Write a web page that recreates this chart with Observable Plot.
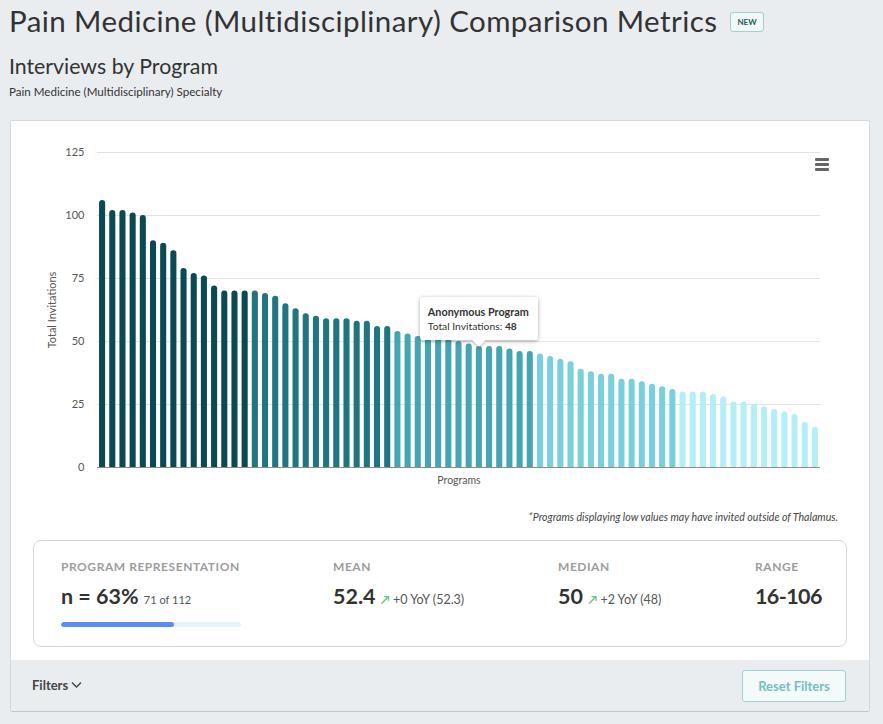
<!DOCTYPE html>
<html><head><meta charset="utf-8">
<script src="https://cdn.jsdelivr.net/npm/d3@7"></script>
<script src="https://cdn.jsdelivr.net/npm/@observablehq/plot@0.6"></script>
<style>
html,body{margin:0;padding:0}
body{background:#e9edf0;font-family:Lato,"Open Sans",sans-serif;width:883px;height:724px;overflow:hidden;position:relative;color:#333}
.abs{position:absolute;white-space:nowrap}
#title{left:9px;top:3px;font-size:29.5px;color:#333;letter-spacing:0.42px}
#badge{left:730px;top:12px;width:32px;height:18px;border:1px solid #9fd0cc;border-radius:3px;background:#f2f8f8;font-size:8px;font-weight:700;color:#1d5b5d;text-align:center;line-height:18px}
#sub1{left:9px;top:53px;font-size:21.3px;color:#333}
#sub2{left:9px;top:85px;font-size:11.6px;color:#333}
#card{left:10px;top:120px;width:858px;height:590px;border:1px solid #d3d7da;border-bottom-color:#c4c8cb;background:#fff;border-radius:2px}
#footer{left:11px;top:660px;width:858px;height:51px;background:#e9edf0}
#chart{left:40px;top:140px}
#menu{left:815px;top:158px;width:14px}
#menu div{height:2.5px;background:#666;margin-bottom:2.5px;border-radius:1px}
#tip{background:#fff;border-radius:3px;box-shadow:0 1px 4px rgba(0,0,0,0.35);padding:7px 9px 6px 8px;font-size:10.3px;color:#333;line-height:15px}
#tip .arrow{position:absolute;left:50%;bottom:-5px;width:9px;height:9px;background:#fff;transform:translateX(-50%) rotate(45deg);box-shadow:2px 2px 2px rgba(0,0,0,0.15)}
#note{right:45px;top:511px;font-size:10.6px;font-style:italic;color:#444}
#stats{left:33px;top:540px;width:812px;height:105px;border:1px solid #d3d7da;border-radius:8px;background:#fff}
.lab{font-size:12px;font-weight:700;color:#9c9c9c;letter-spacing:0.55px;top:559px}
.val{font-size:21.5px;font-weight:700;color:#333;top:583px}
.small{font-size:12.5px;color:#555;font-weight:400}
.tiny{font-size:11px;color:#555;font-weight:400}
.up{color:#6cc08b;font-size:12px}
#bar{left:61px;top:622px;width:180px;height:5px;background:#e6f3f7;border-radius:3px;overflow:hidden}
#bar div{height:5px;background:#5b8def;border-radius:3px}
#filters{left:32px;top:677px;font-size:13px;font-weight:700;color:#444}
#reset{left:742px;top:670px;width:102px;height:30px;border:1px solid #9fd3d3;border-radius:3px;background:#f4f9fa;color:#74bfc0;font-size:13px;font-weight:700;text-align:center;line-height:30px}
</style></head>
<body>
<script>
// ---- data ----
const programIds = ["P1","P2","P3","P4","P5","P6","P7","P8","P9","P10","P11","P12","P13","P14","P15","P16","P17","P18","P19","P20","P21","P22","P23","P24","P25","P26","P27","P28","P29","P30","P31","P32","P33","P34","P35","P36","P37","P38","P39","P40","P41","P42","P43","P44","P45","P46","P47","P48","P49","P50","P51","P52","P53","P54","P55","P56","P57","P58","P59","P60","P61","P62","P63","P64","P65","P66","P67","P68","P69","P70","P71"];
const invitations = [106,102,102,101,100,90,89,86,79,77,76,72,70,70,70,70,69,68,65,63,61,60,59,59,59,58,58,56,56,54,53,52,51,51,51,50,49,48,48,48,47,46,46,45,44,43,42,39,38,37,37,35,35,34,33,32,31,30,30,30,29,28,26,26,25,24,23,22,21,18,16];
const groupSizes = [15,14,14,14,14];
const groupColors = ["#0b4a52","#217580","#45a6b3","#77d0dc","#b4eef6"];
const yTicks = [0,25,50,75,100,125];
const highlightIndex = 37;
const tipTitle = "Anonymous Program";
const tipLabel = "Total Invitations: ";
const titleText = "Pain Medicine (Multidisciplinary) Comparison Metrics";
const chartTitle = "Interviews by Program";
const chartSubtitle = "Pain Medicine (Multidisciplinary) Specialty";
const yLabel = "Total Invitations";
const xLabel = "Programs";
const footnote = "*Programs displaying low values may have invited outside of Thalamus.";
const statLabels = ["PROGRAM REPRESENTATION","MEAN","MEDIAN","RANGE"];
const representationPct = 63, representedCount = 71, totalPrograms = 112;
const meanValue = "52.4", meanDelta = "+0 YoY (52.3)";
const medianValue = "50", medianDelta = "+2 YoY (48)";
const rangeValue = "16-106";

// ---- build ----
const groupOf = [];
groupSizes.forEach((n, g) => { for (let k = 0; k < n; k++) groupOf.push(g); });
const data = invitations.map((v, i) => ({id: programIds[i], v, g: groupOf[i]}));

function el(html) { const d = document.createElement("div"); d.innerHTML = html; return d.firstElementChild; }
document.body.appendChild(el(`<div class="abs" id="title">${titleText}</div>`));
document.body.appendChild(el(`<div class="abs" id="badge">NEW</div>`));
document.body.appendChild(el(`<div class="abs" id="sub1">${chartTitle}</div>`));
document.body.appendChild(el(`<div class="abs" id="sub2">${chartSubtitle}</div>`));
document.body.appendChild(el(`<div class="abs" id="card"></div>`));
document.body.appendChild(el(`<div class="abs" id="footer"></div>`));

const svgLeft = 40, svgTop = 140;
const barInset = 2.05;
const chart = Plot.plot({
  width: 800, height: 352,
  marginLeft: 57, marginRight: 20, marginTop: 12, marginBottom: 25,
  style: {fontFamily: "Lato, sans-serif", fontSize: "11px", color: "#555", background: "transparent", overflow: "visible"},
  x: {type: "band", domain: programIds, padding: 0, align: 0.5, round: false, axis: null},
  y: {domain: [0, 125], label: null},
  color: {type: "ordinal", domain: [0,1,2,3,4], range: groupColors},
  marks: [
    Plot.gridY(yTicks, {stroke: "#e3e3e3", strokeOpacity: 1}),
    Plot.axisY(yTicks, {tickSize: 0, tickPadding: 13, label: yLabel, labelAnchor: "center", labelOffset: 49, labelArrow: "none"}),
    Plot.rectY(data, {x: "id", y1: 0, y2: "v", fill: "g", rx: 3, insetLeft: barInset, insetRight: barInset, insetBottom: -4, clip: true}),
    Plot.ruleY([0], {stroke: "#8d8d8d", strokeWidth: 1.2}),
    Plot.text([xLabel], {frameAnchor: "bottom", dy: 16, fill: "#555", fontSize: 10.5})
  ]
});
const wrap = el(`<div class="abs" id="chart"></div>`);
wrap.appendChild(chart);
document.body.appendChild(wrap);

document.body.appendChild(el(`<div class="abs" id="menu"><div></div><div></div><div></div></div>`));

// tooltip positioned through the plot scales
const xs = chart.scale("x"), ys = chart.scale("y");
const hx = svgLeft + xs.apply(programIds[highlightIndex]) + xs.bandwidth / 2;
const hy = svgTop + ys.apply(invitations[highlightIndex]);
const tip = el(`<div class="abs" id="tip"><div class="arrow"></div><div style="position:relative;font-weight:700;font-size:10.8px">${tipTitle}</div><div style="position:relative">${tipLabel}<b>${invitations[highlightIndex]}</b></div></div>`);
document.body.appendChild(tip);
const tw = tip.offsetWidth, th = tip.offsetHeight;
tip.style.left = (hx - tw / 2) + "px";
tip.style.top = (hy - 6 - th) + "px";

document.body.appendChild(el(`<div class="abs" id="note">${footnote}</div>`));

// stats panel
document.body.appendChild(el(`<div class="abs" id="stats"></div>`));
const cols = [61, 333, 558, 755];
statLabels.forEach((t, i) => document.body.appendChild(el(`<div class="abs lab" style="left:${cols[i]}px">${t}</div>`)));
document.body.appendChild(el(`<div class="abs val" style="left:61px">n = ${representationPct}% <span class="tiny">${representedCount} of ${totalPrograms}</span></div>`));
document.body.appendChild(el(`<div class="abs val" style="left:333px">${meanValue} <span class="up">&#8599;</span><span class="small"> ${meanDelta}</span></div>`));
document.body.appendChild(el(`<div class="abs val" style="left:558px">${medianValue} <span class="up">&#8599;</span><span class="small"> ${medianDelta}</span></div>`));
document.body.appendChild(el(`<div class="abs val" style="left:755px;letter-spacing:-0.6px">${rangeValue}</div>`));
document.body.appendChild(el(`<div class="abs" id="bar"><div style="width:${representationPct}%"></div></div>`));

document.body.appendChild(el(`<div class="abs" id="filters">Filters <svg width="11" height="8" viewBox="0 0 11 8" style="vertical-align:1px"><path d="M1 1.5 L5.5 6 L10 1.5" fill="none" stroke="#444" stroke-width="1.4"/></svg></div>`));
document.body.appendChild(el(`<div class="abs" id="reset">Reset Filters</div>`));
</script>
</body></html>
